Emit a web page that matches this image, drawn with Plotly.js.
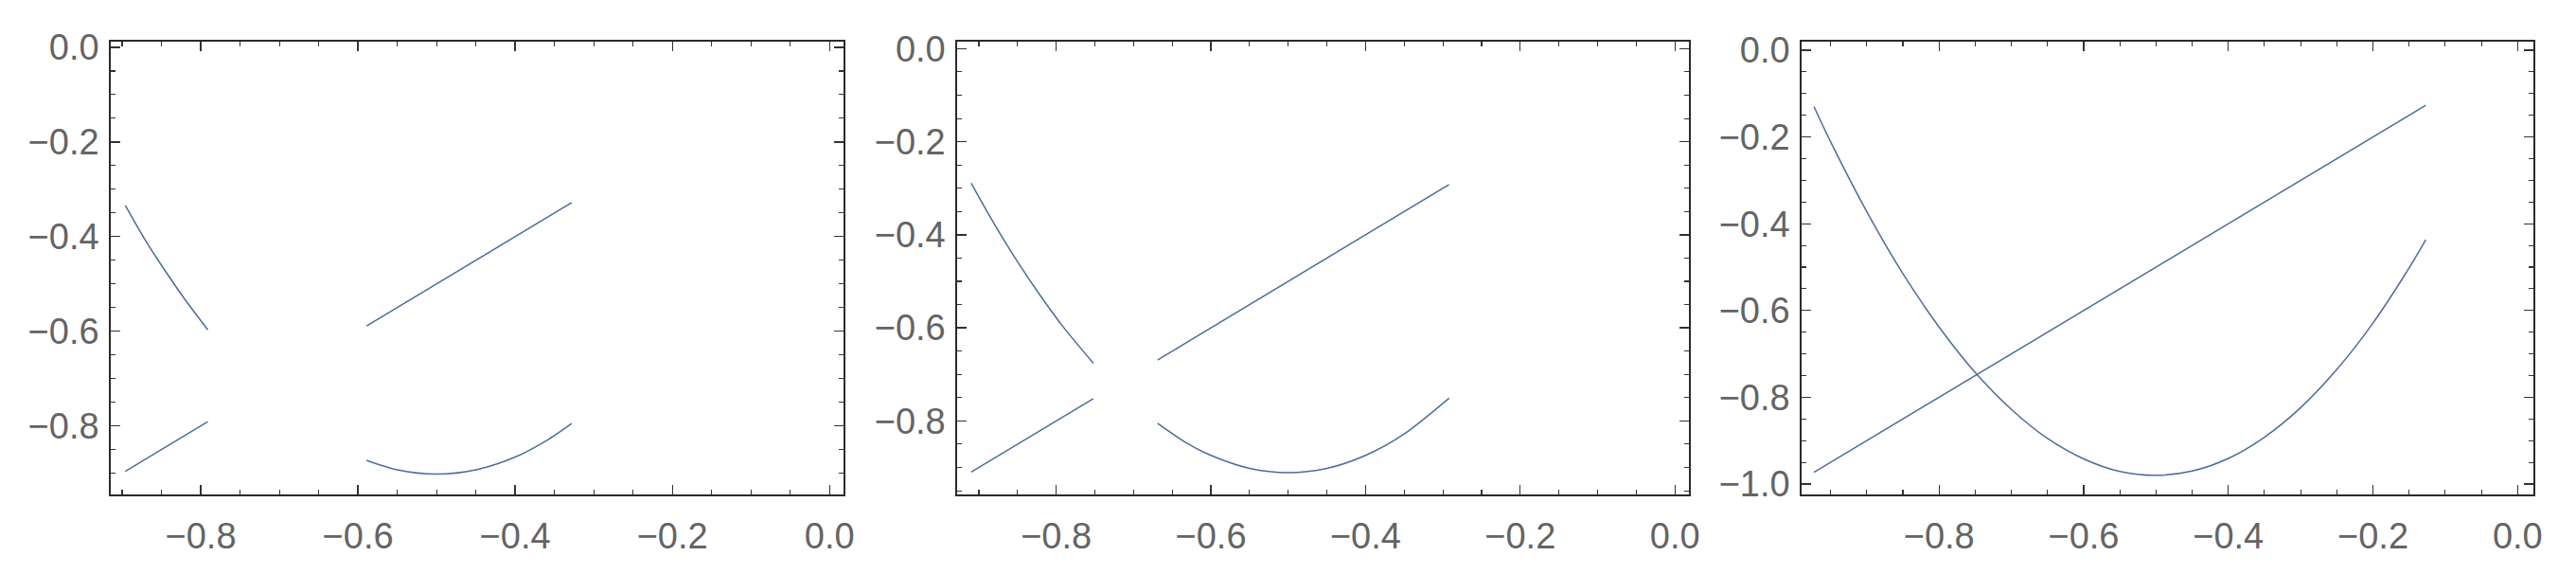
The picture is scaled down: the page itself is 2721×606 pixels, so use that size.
<!DOCTYPE html>
<html>
<head>
<meta charset="utf-8">
<script src="https://cdn.plot.ly/plotly-3.0.1.min.js"></script>
<style>
  body { margin: 0; background: #fff; }
  #plot { width: 2721px; height: 606px; }
</style>
</head>
<body>
<div id="plot"></div>
<script>
// panel 1 : straight line (two pieces) and parabola (two pieces)
var p1LineX1 = [-0.896, -0.791];
var p1LineY1 = [-0.896, -0.791];
var p1LineX2 = [-0.589, -0.328];
var p1LineY2 = [-0.589, -0.328];
var p1CurveX1 = [-0.896, -0.87, -0.845, -0.82, -0.791];
var p1CurveY1 = [-0.334, -0.409, -0.473, -0.533, -0.597];
var p1CurveX2 = [-0.589, -0.55, -0.5, -0.45, -0.4, -0.36, -0.328];
var p1CurveY2 = [-0.873, -0.893, -0.902, -0.893, -0.866, -0.831, -0.795];

// panel 2
var p2LineX1 = [-0.91, -0.752];
var p2LineY1 = [-0.91, -0.752];
var p2LineX2 = [-0.669, -0.292];
var p2LineY2 = [-0.669, -0.292];
var p2CurveX1 = [-0.91, -0.88, -0.85, -0.82, -0.79, -0.752];
var p2CurveY1 = [-0.289, -0.377, -0.458, -0.532, -0.600, -0.676];
var p2CurveX2 = [-0.669, -0.63, -0.6, -0.55, -0.5, -0.45, -0.4, -0.35, -0.292];
var p2CurveY2 = [-0.805, -0.849, -0.874, -0.902, -0.911, -0.902, -0.874, -0.828, -0.751];

// panel 3
var p3LineX = [-0.973, -0.127];
var p3LineY = [-0.973, -0.127];
var p3CurveX = [-0.973, -0.95, -0.9, -0.85, -0.8, -0.75, -0.7, -0.65, -0.6, -0.55, -0.5,
                -0.45, -0.4, -0.35, -0.3, -0.25, -0.2, -0.15, -0.127];
var p3CurveY = [-0.130, -0.211, -0.372, -0.515, -0.638, -0.743, -0.828, -0.895, -0.942, -0.971, -0.980,
                -0.970, -0.941, -0.892, -0.824, -0.736, -0.629, -0.502, -0.437];

var lineColor = '#4d6c9c';

function tr(x, y, ax) {
  return {
    x: x, y: y, xaxis: 'x' + ax, yaxis: 'y' + ax,
    mode: 'lines', line: {color: lineColor, width: 1.5, shape: 'spline', smoothing: 0.8},
    hoverinfo: 'skip', showlegend: false
  };
}

var data = [
  tr(p1LineX1, p1LineY1, ''), tr(p1LineX2, p1LineY2, ''),
  tr(p1CurveX1, p1CurveY1, ''), tr(p1CurveX2, p1CurveY2, ''),
  tr(p2LineX1, p2LineY1, 2), tr(p2LineX2, p2LineY2, 2),
  tr(p2CurveX1, p2CurveY1, 2), tr(p2CurveX2, p2CurveY2, 2),
  tr(p3LineX, p3LineY, 3), tr(p3CurveX, p3CurveY, 3)
];

var tickFont = {family: 'Liberation Sans, Arial, sans-serif', size: 38, color: '#646464'};

function axis(domain, range, anchor, standoff) {
  return {
    domain: domain, range: range, anchor: anchor,
    showgrid: false, zeroline: false,
    showline: true, linecolor: '#2a2a2a', linewidth: 1.8, mirror: 'ticks',
    ticks: 'inside', ticklen: 10, tickwidth: 1.3, tickcolor: '#333',
    dtick: 0.2, tick0: 0, tickformat: '.1f',
    tickfont: tickFont, ticklabelstandoff: standoff,
    minor: {ticks: 'inside', ticklen: 5, dtick: 0.05, tickwidth: 1.1, tickcolor: '#333', showgrid: false}
  };
}

var yDom = [0.1386, 0.9274];

var layout = {
  width: 2721, height: 606,
  margin: {l: 0, r: 0, t: 0, b: 0},
  paper_bgcolor: '#fff', plot_bgcolor: '#fff',
  showlegend: false,
  xaxis: axis([0.0430, 0.3275], [-0.9145, 0.018], 'y', 10),
  yaxis: axis(yDom, [-0.945, 0.012], 'x', 3),
  xaxis2: axis([0.3716, 0.6556], [-0.928, 0.018], 'y2', 10),
  yaxis2: axis(yDom, [-0.958, 0.015], 'x2', 3),
  xaxis3: axis([0.6994, 0.9835], [-0.99, 0.022], 'y3', 10),
  yaxis3: axis(yDom, [-1.024, 0.0197], 'x3', 3)
};

Plotly.newPlot('plot', data, layout, {staticPlot: true});
</script>
</body>
</html>
